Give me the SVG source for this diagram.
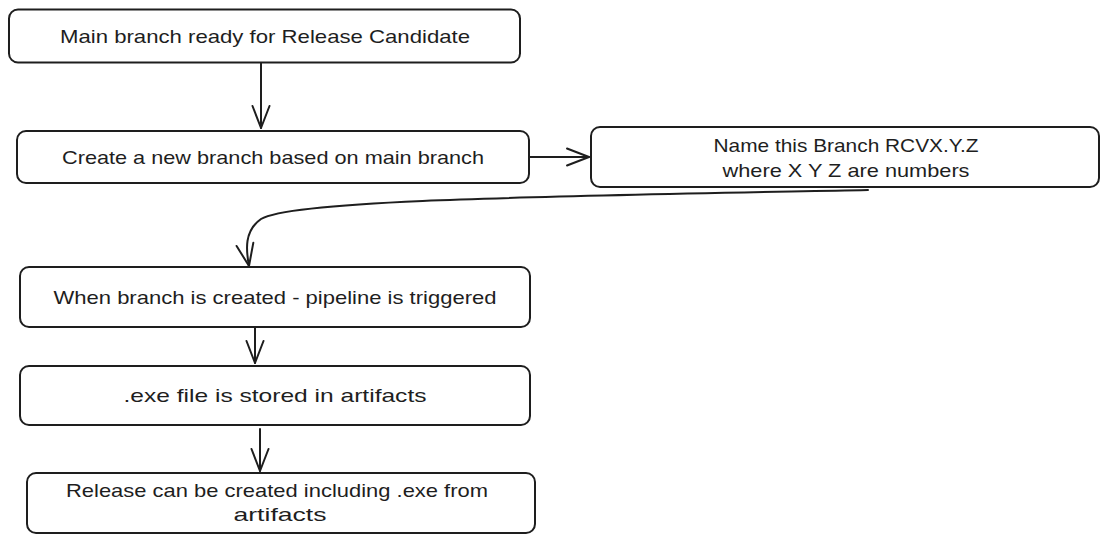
<svg xmlns="http://www.w3.org/2000/svg" width="1110" height="543" viewBox="0 0 1110 543">
  <style>
    .box { fill: #ffffff; stroke: #1e1e1e; stroke-width: 2; }
    .lbl { font-family: "Liberation Sans", "Comic Sans MS", sans-serif; font-size: 19px; fill: #1e1e1e; text-anchor: middle; dominant-baseline: central; }
    .conn { fill: none; stroke: #1e1e1e; stroke-width: 2; stroke-linecap: round; }
  </style>
  <defs>
    <marker id="arr" viewBox="-24 -12 28 24" refX="0" refY="0" markerWidth="28" markerHeight="24" markerUnits="userSpaceOnUse" orient="auto">
      <path d="M -22,-8.5 L 0,0 L -22,8.5" fill="none" stroke="#1e1e1e" stroke-width="2" stroke-linecap="round" stroke-linejoin="round"/>
    </marker>
  </defs>
  <rect x="0" y="0" width="1110" height="543" fill="#ffffff"/>

  <g id="connectors">
    <path class="conn" d="M 261,63 L 261,128" marker-end="url(#arr)"/>
    <path class="conn" d="M 530,157 L 589,157" marker-end="url(#arr)"/>
    <path class="conn" d="M 868,190 C 520,197 292,200 261,219 C 244,231 246,250 249,266" marker-end="url(#arr)"/>
    <path class="conn" d="M 255,328 L 255,363" marker-end="url(#arr)"/>
    <path class="conn" d="M 260,429 L 260,471" marker-end="url(#arr)"/>
  </g>

  <g id="node-main">
    <rect class="box" x="9" y="9.5" width="511" height="53" rx="9"/>
    <text class="lbl" x="265" y="36" textLength="410" lengthAdjust="spacingAndGlyphs">Main branch ready for Release Candidate</text>
  </g>
  <g id="node-create">
    <rect class="box" x="17" y="131" width="512" height="52" rx="9"/>
    <text class="lbl" x="273" y="157" textLength="422" lengthAdjust="spacingAndGlyphs">Create a new branch based on main branch</text>
  </g>
  <g id="node-name">
    <rect class="box" x="591" y="127" width="508" height="60" rx="9"/>
    <text class="lbl" x="846" y="145" textLength="265" lengthAdjust="spacingAndGlyphs">Name this Branch RCVX.Y.Z</text>
    <text class="lbl" x="846" y="170" textLength="247" lengthAdjust="spacingAndGlyphs">where X Y Z are numbers</text>
  </g>
  <g id="node-pipeline">
    <rect class="box" x="20" y="267" width="510" height="60" rx="9"/>
    <text class="lbl" x="275" y="297" textLength="443" lengthAdjust="spacingAndGlyphs">When branch is created - pipeline is triggered</text>
  </g>
  <g id="node-exe">
    <rect class="box" x="20" y="366" width="510" height="59" rx="9"/>
    <text class="lbl" x="275" y="395" textLength="303" lengthAdjust="spacingAndGlyphs">.exe file is stored in artifacts</text>
  </g>
  <g id="node-release">
    <rect class="box" x="27" y="473" width="508" height="60" rx="9"/>
    <text class="lbl" x="277" y="490" textLength="422" lengthAdjust="spacingAndGlyphs">Release can be created including .exe from</text>
    <text class="lbl" x="280" y="514" textLength="93" lengthAdjust="spacingAndGlyphs">artifacts</text>
  </g>
</svg>
